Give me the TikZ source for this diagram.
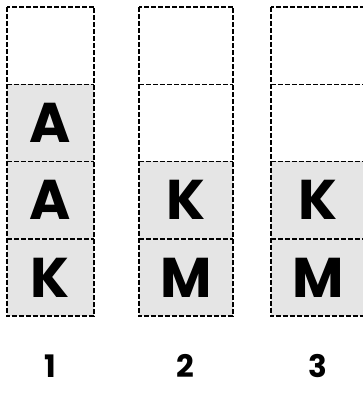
\documentclass[tikz,border=0pt]{standalone}
\usepackage{fontspec}
\setmainfont{Poppins}
\usepackage{tikz}

\definecolor{cellgray}{HTML}{E5E5E5}

\tikzset{
    cell/.style={inner sep=0pt, minimum height=77.25pt, font=\fontsize{56}{60}\selectfont\bfseries},
    narrow/.style={minimum width=87pt},
    wide/.style={minimum width=94pt},
    filled/.style={fill=cellgray},
    border/.style={draw=black, dash pattern=on 5pt off 2pt, line width=1.5pt},
    stacklabel/.style={font=\fontsize{31}{36}\selectfont\bfseries}
}

\begin{document}
\begin{tikzpicture}[x=1pt,y=-1pt]
    \useasboundingbox (0,0) rectangle (363,398);

    % Stack 1
    \node[cell,narrow] (s1r1) at (50.5,45.6) {};
    \node[cell,narrow,filled] (s1r2) at (50.5,122.9) {A};
    \node[cell,narrow,filled] (s1r3) at (50.5,200.1) {A};
    \node[cell,narrow,filled] (s1r4) at (50.5,277.4) {K};

    % Stack 2
    \node[cell,wide] (s2r1) at (186,45.6) {};
    \node[cell,wide] (s2r2) at (186,122.9) {};
    \node[cell,wide,filled] (s2r3) at (186,200.1) {K};
    \node[cell,wide,filled] (s2r4) at (186,277.4) {M};

    % Stack 3
    \node[cell,wide] (s3r1) at (318,45.6) {};
    \node[cell,wide] (s3r2) at (318,122.9) {};
    \node[cell,wide,filled] (s3r3) at (318,200.1) {K};
    \node[cell,wide,filled] (s3r4) at (318,277.4) {M};

    % Dashed borders, each line drawn once over the fills
    \foreach \s in {1,2,3} {
        \draw[border] (s\s r1.north west) rectangle (s\s r4.south east);
        \foreach \r in {1,2,3}
            \draw[border] (s\s r\r.south west) -- (s\s r\r.south east);
    }

    % Stack numbers
    \node[stacklabel] (n1) at (50,366) {1};
    \node[stacklabel] (n2) at (185,366) {2};
    \node[stacklabel] (n3) at (318,366) {3};

\end{tikzpicture}
\end{document}
